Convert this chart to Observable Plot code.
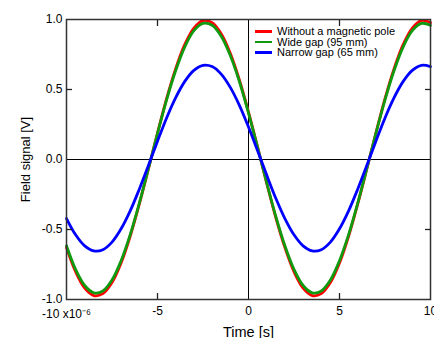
<!DOCTYPE html>
<html><head><meta charset="utf-8">
<script src="https://cdn.jsdelivr.net/npm/d3@7"></script>
<script src="https://cdn.jsdelivr.net/npm/@observablehq/plot@0.6"></script>
<style>
body{margin:0;background:#fff;font-family:"Liberation Sans",Arial,Helvetica,sans-serif;}
#wrap{position:relative;width:434px;height:338px;overflow:hidden;}
#legend{position:absolute;left:255px;top:26px;font-size:11px;line-height:10.6px;color:#000;}
#legend div{display:flex;align-items:center;white-space:nowrap;}
#legend span.sw{display:inline-block;width:17px;height:2.6px;margin-right:5px;}
</style></head>
<body><div id="wrap"><div id="chart"></div><div id="legend"></div></div>
<script>
const timeUs = [-10,-9.5,-9,-8.5,-8,-7.5,-7,-6.5,-6,-5.5,-5,-4.5,-4,-3.5,-3,-2.5,-2,-1.5,-1,-0.5,0,0.5,1,1.5,2,2.5,3,3.5,4,4.5,5,5.5,6,6.5,7,7.5,8,8.5,9,9.5,10];
const withoutPole = [-0.629,-0.802,-0.919,-0.972,-0.958,-0.879,-0.739,-0.548,-0.319,-0.068,0.189,0.435,0.649,0.822,0.939,0.992,0.978,0.899,0.759,0.568,0.339,0.088,-0.169,-0.415,-0.629,-0.802,-0.919,-0.972,-0.958,-0.879,-0.739,-0.548,-0.319,-0.068,0.189,0.435,0.649,0.822,0.939,0.992,0.978];
const wideGap = [-0.616,-0.785,-0.900,-0.952,-0.939,-0.861,-0.723,-0.537,-0.312,-0.066,0.186,0.426,0.636,0.805,0.920,0.972,0.959,0.881,0.743,0.557,0.332,0.086,-0.166,-0.406,-0.616,-0.785,-0.900,-0.952,-0.939,-0.861,-0.723,-0.537,-0.312,-0.066,0.186,0.426,0.636,0.805,0.920,0.972,0.959];
const narrowGap = [-0.422,-0.538,-0.617,-0.653,-0.644,-0.590,-0.495,-0.367,-0.212,-0.043,0.131,0.297,0.442,0.558,0.637,0.673,0.664,0.610,0.515,0.387,0.232,0.063,-0.111,-0.277,-0.422,-0.538,-0.617,-0.653,-0.644,-0.590,-0.495,-0.367,-0.212,-0.043,0.131,0.297,0.442,0.558,0.637,0.673,0.664];
const seriesNames = ["Without a magnetic pole","Wide gap (95 mm)","Narrow gap (65 mm)"];
const seriesColors = ["#ff0000","#109a10","#0000ff"];
const xTickLabels = [-5,0,5,10];
const xFirstTick = [-10];
const yTicks = [-1,-0.5,0,0.5,1];
const minorX = [-5,5];
const minorY = [-0.5,0.5];

const seriesValues = [withoutPole, wideGap, narrowGap];
const rows = [];
seriesNames.forEach((name, i) => {
  timeUs.forEach((t, j) => rows.push({series: name, t, v: seriesValues[i][j]}));
});

const chart = Plot.plot({
  width: 434, height: 338,
  marginLeft: 66, marginRight: 4, marginTop: 19, marginBottom: 39,
  style: {fontFamily: '"Liberation Sans",Arial,Helvetica,sans-serif', fontSize: "12px", color: "#000", background: "#fff"},
  x: {domain: [-10, 10]},
  y: {domain: [-1, 1]},
  color: {domain: seriesNames, range: seriesColors},
  marks: [
    Plot.ruleY([0], {stroke: "#000", strokeWidth: 1}),
    Plot.ruleX([0], {stroke: "#000", strokeWidth: 1}),
    Plot.line(rows, {x: "t", y: "v", z: "series", stroke: "series", strokeWidth: 2.8, curve: "catmull-rom"}),
    Plot.frame({stroke: "#333", strokeWidth: 1.5}),
    Plot.axisX(xTickLabels, {anchor: "bottom", tickSize: 0, tickPadding: 7,
      tickFormat: d => String(d),
      label: "Time [s]", labelAnchor: "center", labelArrow: "none", labelOffset: 37}),
    Plot.axisX(xFirstTick, {anchor: "bottom", tickSize: 0, tickPadding: 10,
      tickFormat: () => "-10 x10\u207B\u2076", label: null}),
    Plot.axisX(minorX, {anchor: "bottom", tickSize: -6, fill: "none", label: null, stroke: "#222", strokeWidth: 1.3}),
    Plot.axisX(minorX, {anchor: "top", tickSize: -6, fill: "none", label: null, stroke: "#222", strokeWidth: 1.3}),
    Plot.axisY(yTicks, {anchor: "left", tickSize: 0, tickPadding: 4,
      tickFormat: d => d.toFixed(1),
      label: "Field signal [V]", labelAnchor: "center", labelArrow: "none", labelOffset: 46}),
    Plot.axisY(minorY, {anchor: "left", tickSize: -6, fill: "none", label: null, stroke: "#222", strokeWidth: 1.3}),
    Plot.axisY(minorY, {anchor: "right", tickSize: -6, fill: "none", label: null, stroke: "#222", strokeWidth: 1.3})
  ]
});
chart.querySelectorAll("[aria-label='x-axis label'] text").forEach(t => t.style.fontSize = "14.5px");
chart.querySelectorAll("[aria-label='y-axis label'] text").forEach(t => t.style.fontSize = "13px");
document.getElementById("chart").appendChild(chart);

const legend = document.getElementById("legend");
seriesNames.forEach((name, i) => {
  const row = document.createElement("div");
  const sw = document.createElement("span");
  sw.className = "sw";
  sw.style.background = seriesColors[i];
  row.appendChild(sw);
  row.appendChild(document.createTextNode(name));
  legend.appendChild(row);
});
</script>
</body></html>
